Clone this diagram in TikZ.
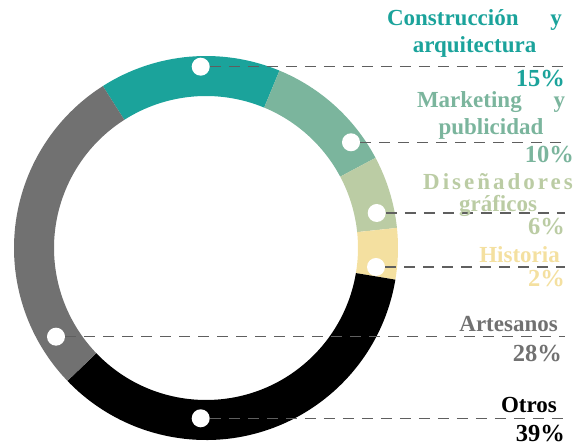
\documentclass[tikz,border=0pt]{standalone}
\usepackage{fontspec}
\setmainfont{Liberation Serif}
\definecolor{cteal}{RGB}{27,163,155}
\definecolor{cmark}{RGB}{123,181,157}
\definecolor{cdis}{RGB}{187,204,164}
\definecolor{chist}{RGB}{244,224,160}
\definecolor{cart}{RGB}{113,113,113}
\definecolor{dashgray}{RGB}{95,95,95}
% one piece of the ring: colour, start angle, end angle
\newcommand{\ringseg}[3]{\fill[#1] (206,198) ++(#2:192) arc[start angle=#2, end angle=#3, radius=192] -- ++(#3+180:40) arc[start angle=#3, end angle=#2, radius=152] -- cycle;}
\tikzset{
  whitedot/.style={circle, fill=white, inner sep=0pt, minimum size=18pt},
  guide/.style={draw=dashgray, line width=1.3pt, dash pattern=on 11pt off 8pt},
  lbl/.style={inner sep=0pt, font=\bfseries\fontsize{23}{27}\selectfont},
  pct/.style={inner sep=0pt, anchor=base east, font=\bfseries\fontsize{24.5}{30}\selectfont},
}
\begin{document}
\begin{tikzpicture}[x=1pt, y=1pt]
\useasboundingbox (0,0) rectangle (576,446);
\ringseg{cteal}{122.5}{67.5}
\ringseg{cmark}{67.5}{28}
\ringseg{cdis}{28}{6}
\ringseg{chist}{6}{-9.5}
\ringseg{black}{-9.5}{-136.2}
\ringseg{cart}{223.8}{122.5}
\node[whitedot] (dotcon) at (200.7,379.3){};
\node[whitedot] (dotmar) at (351,303.7){};
\node[whitedot] (dotdis) at (376.7,233){};
\node[whitedot] (dothis) at (376,179){};
\node[whitedot] (dotart) at (56,109.3){};
\node[whitedot] (dototr) at (200.7,27.7){};
\coordinate (endcon) at (565,379.3);
\coordinate (endmar) at (565,303.7);
\coordinate (enddis) at (565,233);
\coordinate (endhis) at (565,179);
\coordinate (endart) at (565,109.3);
\coordinate (endotr) at (565,27.7);
\draw[guide](dotcon.east) -- (endcon);
\draw[guide](dotmar.east) -- (endmar);
\draw[guide](dotdis.east) -- (enddis);
\draw[guide](dothis.east) -- (endhis);
\draw[guide](dotart.east) -- (endart);
\draw[guide](dototr.east) -- (endotr);
\node[lbl, cteal, text width=175pt, align=center, anchor=base] (txtcon) at (474.5,420){Construcción\hskip 0pt plus 1filll y\\arquitectura};
\node[pct, cteal] (pctcon) at (565,359.5){15\%};
\node[lbl, cmark, text width=148pt, align=center, anchor=base] (txtmar) at (491,338.5){Marketing\hskip 0pt plus 1filll y\\publicidad};
\node[pct, cmark] (pctmar) at (574,283){10\%};
\node[lbl, cdis, text width=150pt, align=center, anchor=base] (txtdis) at (498,256){{\addfontfeature{LetterSpace=13}Diseñadores}\\[-5pt]gráficos};
\node[pct, cdis] (pctdis) at (565,211){6\%};
\node[lbl, chist, anchor=base east] (txthis) at (560,183){Historia};
\node[pct, chist] (pcthis) at (565,159){2\%};
\node[lbl, cart, anchor=base east] (txtart) at (558,114.3){Artesanos};
\node[pct, cart] (pctart) at (562,84.3){28\%};
\node[lbl, black, anchor=base east] (txtotr) at (557,33){Otros};
\node[pct, black] (pctotr) at (565,4){39\%};
\end{tikzpicture}
\end{document}
